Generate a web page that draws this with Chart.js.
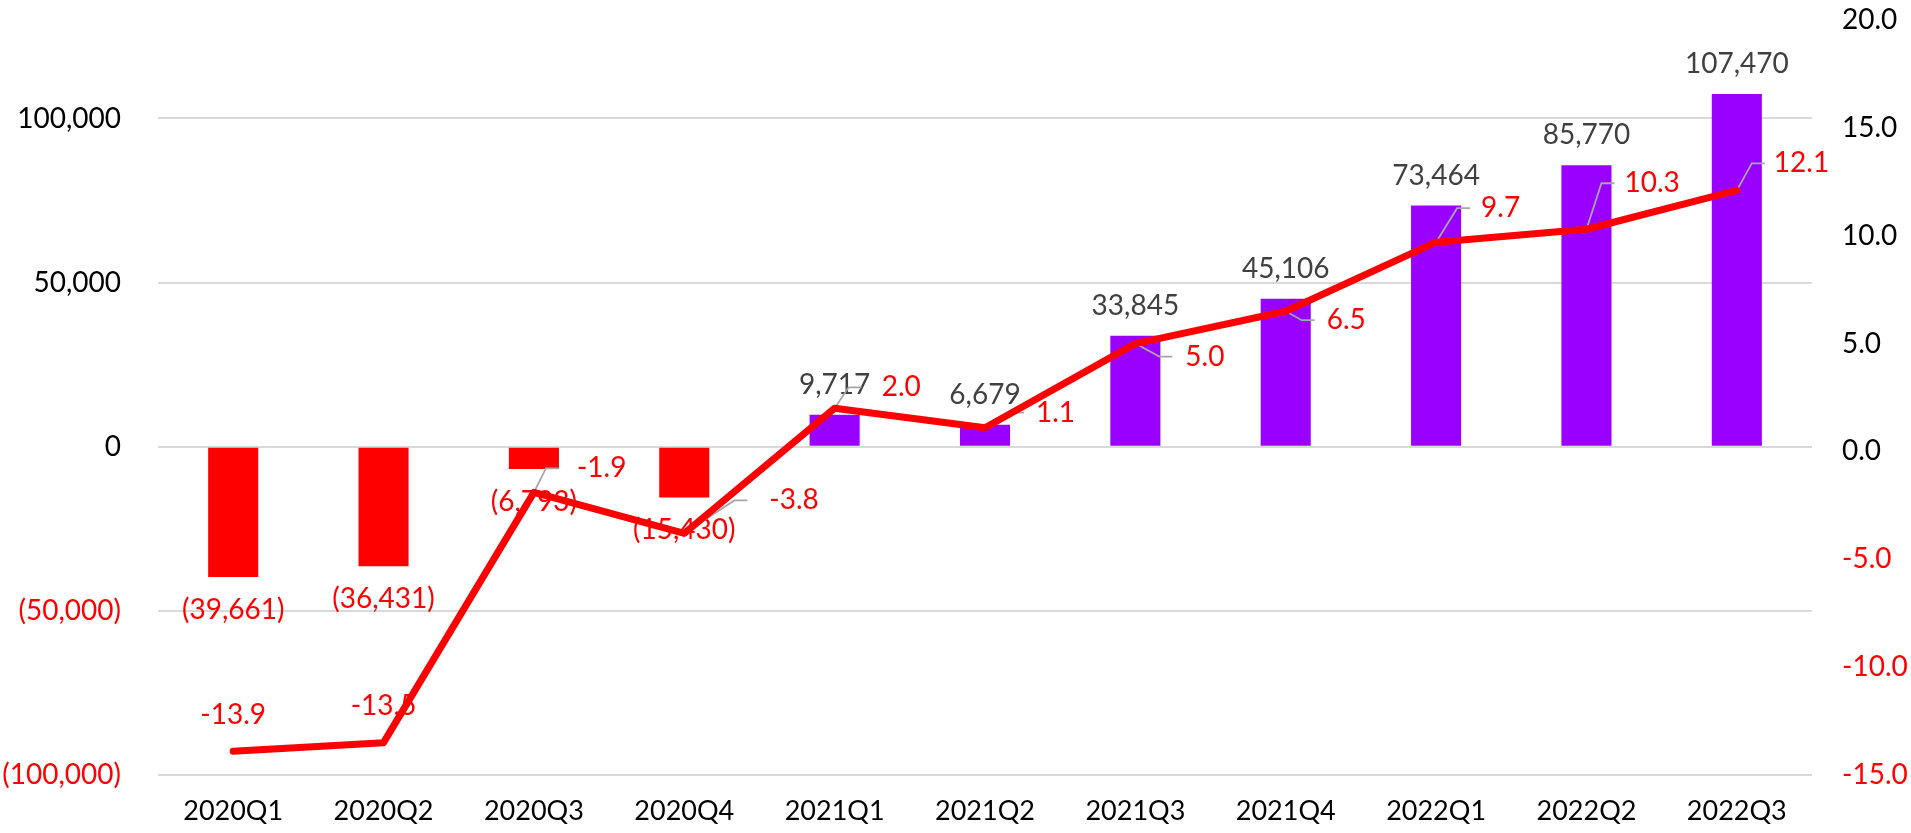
<!DOCTYPE html>
<html>
<head>
<meta charset="utf-8">
<script src="https://cdn.jsdelivr.net/npm/chart.js@4"></script>
<style>
  html, body { margin: 0; padding: 0; background: #fff; }
  #wrap { width: 1911px; height: 833px; position: relative; }
</style>
</head>
<body>
<div id="wrap"><canvas id="chart"></canvas></div>
<script>
const quarters = ["2020Q1", "2020Q2", "2020Q3", "2020Q4", "2021Q1", "2021Q2",
  "2021Q3", "2021Q4", "2022Q1", "2022Q2", "2022Q3"];
const profit = [-39661, -36431, -6793, -15430, 9717, 6679, 33845, 45106, 73464, 85770, 107470];
const margin = [-13.9, -13.5, -1.9, -3.8, 2.0, 1.1, 5.0, 6.5, 9.7, 10.3, 12.1];
const leftTicks = [-100000, -50000, 0, 50000, 100000];
const rightTicks = [-15, -10, -5, 0, 5, 10, 15, 20];

// margin label placement relative to its point: [dx, dy, leader gap]
// gap null = centred above the point, no leader; otherwise dx is the text's left edge
const marginLabelShift = [[0, -36, null], [0, -37, null], [43, -24, 18], [85, -33, 22],
  [47, -21, 20], [51, -15, 12], [50, 13, 13], [41, 9, 12], [45, -34, 11],
  [38, -46, 10], [37, -27, 9]];

const RED = "#ff0000";
const PURPLE = "#9900ff";
const NUM_FONT = "28px Lato";

Chart.defaults.font.family = "Lato";
Chart.defaults.font.size = 27;
Chart.defaults.color = "#000";

function fmtThousands(v) {
  const s = Math.abs(v).toLocaleString("en-US");
  return v < 0 ? "(" + s + ")" : s;
}

function fixedY(width) {
  return function (s) {
    s.width = width;
    s.paddingTop = 0;
    s.paddingBottom = 0;
  };
}

const valueLabels = {
  id: "valueLabels",
  afterDatasetDraw(chart, args) {
    if (args.index !== 1) return;
    const ctx = chart.ctx;
    ctx.save();
    ctx.font = NUM_FONT;
    ctx.textBaseline = "middle";

    // bar labels
    ctx.textAlign = "center";
    chart.getDatasetMeta(1).data.forEach(function (el, i) {
      const v = profit[i];
      ctx.fillStyle = v < 0 ? RED : "#404040";
      ctx.fillText(fmtThousands(v), el.x, el.y + (v < 0 ? 33 : -30));
    });

    // line labels, most with a leader line
    chart.getDatasetMeta(0).data.forEach(function (el, i) {
      const txt = margin[i].toFixed(1);
      const sh = marginLabelShift[i];
      const x = el.x + sh[0];
      const y = el.y + sh[1];
      ctx.fillStyle = RED;
      if (sh[2] === null) {
        ctx.textAlign = "center";
        ctx.fillText(txt, x, y);
        return;
      }
      ctx.strokeStyle = "#a6a6a6";
      ctx.lineWidth = 1.8;
      ctx.beginPath();
      ctx.moveTo(el.x, el.y);
      ctx.lineTo(x - sh[2] - 13, y);
      ctx.lineTo(x - sh[2], y);
      ctx.stroke();
      ctx.textAlign = "left";
      ctx.fillText(txt, x, y);
    });
    ctx.restore();
  },
};

new Chart(document.getElementById("chart"), {
  type: "bar",
  data: {
    labels: quarters,
    datasets: [
      {
        type: "line",
        label: "Margin",
        data: margin,
        yAxisID: "y1",
        borderColor: RED,
        borderWidth: 7,
        borderCapStyle: "round",
        borderJoinStyle: "round",
        pointRadius: 0,
        tension: 0,
      },
      {
        type: "bar",
        label: "Profit",
        data: profit,
        yAxisID: "y",
        backgroundColor: profit.map(function (v) { return v < 0 ? RED : PURPLE; }),
        barPercentage: 0.333,
        categoryPercentage: 1.0,
      },
    ],
  },
  options: {
    responsive: true,
    maintainAspectRatio: false,
    animation: false,
    layout: { padding: { top: 20, left: 0, right: 0, bottom: 0 } },
    plugins: { legend: { display: false }, tooltip: { enabled: false } },
    scales: {
      x: {
        grid: { display: false, drawTicks: false },
        border: { display: false },
        ticks: { padding: 20, color: "#000", maxRotation: 0 },
        afterFit: function (s) { s.height = 58; },
      },
      y: {
        position: "left",
        min: -100000,
        max: 130000,
        afterBuildTicks: function (s) {
          s.ticks = leftTicks.map(function (v) { return { value: v }; });
        },
        grid: { color: "#d9d9d9", lineWidth: 2, drawTicks: false },
        border: { display: false },
        ticks: {
          padding: 37,
          font: { size: 28 },
          color: function (c) { return c.tick && c.tick.value < 0 ? RED : "#000"; },
          callback: function (v) { return fmtThousands(v); },
        },
        afterFit: fixedY(158),
      },
      y1: {
        position: "right",
        min: -15,
        max: 20,
        afterBuildTicks: function (s) {
          s.ticks = rightTicks.map(function (v) { return { value: v }; });
        },
        grid: { display: false, drawTicks: false },
        border: { display: false },
        ticks: {
          padding: 30,
          font: { size: 28 },
          color: function (c) { return c.tick && c.tick.value < 0 ? RED : "#000"; },
          callback: function (v) { return Number(v).toFixed(1); },
        },
        afterFit: fixedY(99),
      },
    },
  },
  plugins: [valueLabels],
});
</script>
</body>
</html>
